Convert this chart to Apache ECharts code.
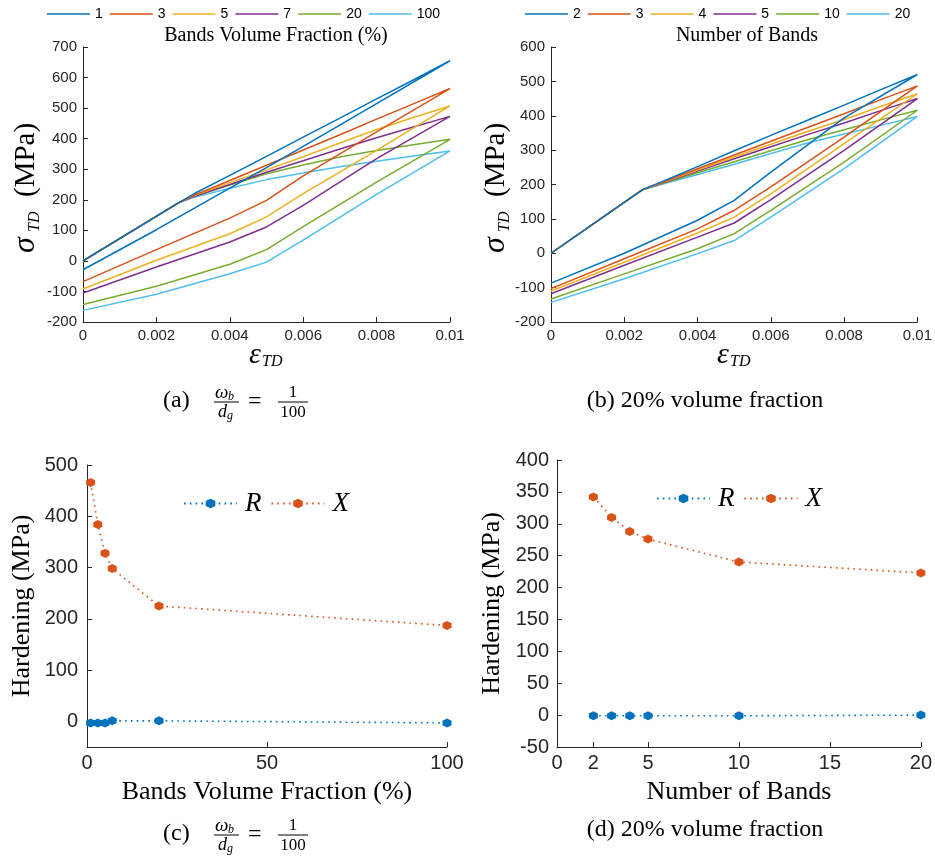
<!DOCTYPE html>
<html>
<head>
<meta charset="utf-8">
<script src="https://cdn.jsdelivr.net/npm/echarts@6/dist/echarts.min.js"></script>
<style>
html, body { margin: 0; padding: 0; background: #ffffff; }
#chart { width: 935px; height: 856px; }
</style>
</head>
<body>
<div id="chart"></div>
<script>
// ---------- (a) stress–strain loops, by bands volume fraction (%) ----------
const fractionLabels = ['1', '3', '5', '7', '20', '100'];
const strainLoadA = [0, 0.0026, 0.003, 0.004, 0.005, 0.006, 0.007, 0.008, 0.009, 0.01];
const strainUnloadA = [0.01, 0.008, 0.006, 0.005, 0.004, 0.002, 0];
const stressLoadA = [
  [0, 190, 218, 280, 342, 405, 467, 530, 592, 655],
  [0, 190, 213, 263, 313, 363, 413, 464, 514, 564],
  [0, 190, 212, 256, 298, 341, 386, 430, 469, 507],
  [0, 190, 210, 250, 290, 328, 366, 403, 438, 473],
  [0, 190, 210, 248, 285, 314, 340, 361, 380, 398],
  [0, 190, 207, 238, 266, 288, 308, 326, 343, 360]
];
const stressUnloadA = [
  [655, 515, 375, 305, 238, 102, -29],
  [564, 422, 278, 198, 140, 37, -68],
  [507, 362, 220, 144, 89, 2, -92],
  [473, 335, 182, 111, 62, -20, -105],
  [398, 258, 112, 37, -11, -83, -143],
  [360, 218, 68, -4, -42, -109, -162]
];

// ---------- (b) stress–strain loops, by number of bands ----------
const bandLabels = ['2', '3', '4', '5', '10', '20'];
const strainLoadB = [0, 0.0025, 0.003, 0.004, 0.005, 0.006, 0.007, 0.008, 0.009, 0.01];
const strainUnloadB = [0.01, 0.008, 0.006, 0.005, 0.004, 0.002, 0];
const stressLoadB = [
  [0, 185, 207, 252, 298, 343, 387, 431, 476, 520],
  [0, 185, 206, 246, 286, 326, 366, 406, 447, 487],
  [0, 185, 204, 242, 280, 317, 354, 389, 427, 464],
  [0, 185, 203, 239, 275, 310, 345, 379, 415, 450],
  [0, 185, 201, 234, 266, 298, 330, 359, 388, 416],
  [0, 185, 200, 229, 259, 290, 321, 347, 372, 398]
];
const stressUnloadB = [
  [520, 394, 236, 154, 96, 0, -87],
  [487, 338, 193, 125, 71, -16, -103],
  [464, 319, 173, 105, 59, -26, -110],
  [450, 299, 156, 88, 47, -35, -118],
  [416, 265, 125, 57, 13, -60, -133],
  [398, 246, 105, 37, -1, -74, -143]
];

// ---------- (c) hardening vs bands volume fraction ----------
const volumeFraction = [1, 3, 5, 7, 20, 100];
const hardeningR_c = [-3, -3, -3, 1, 1, -3];
const hardeningX_c = [466, 384, 328, 298, 225, 187];

// ---------- (d) hardening vs number of bands ----------
const numberOfBands = [2, 3, 4, 5, 10, 20];
const hardeningR_d = [-1, -1, -1, -1, -1, 0];
const hardeningX_d = [342, 310, 288, 276, 240, 223];

const palette = ['#0072BD', '#D95319', '#EDB120', '#7E2F8E', '#77AC30', '#4DBEEE'];
const AX = '#262626';
const SANS = '"Liberation Sans", Arial, sans-serif';
const SERIF = '"Liberation Serif", "Times New Roman", serif';
const hexagon = 'path://M-8.66,-5L0,-10L8.66,-5L8.66,5L0,10L-8.66,5Z';

function pairs(xs, ys) { return xs.map((x, i) => [x, ys[i]]); }

function valueAxis(gridIndex, extra, fontSize, margin) {
  const label = { color: AX, fontFamily: SANS, fontSize: fontSize, margin: margin };
  const tick = { show: true, inside: true, length: 5, lineStyle: { color: AX, width: 1 } };
  const out = Object.assign({
    type: 'value',
    gridIndex: gridIndex,
    axisLine: { show: true, onZero: false, lineStyle: { color: AX, width: 1 } },
    splitLine: { show: false }
  }, extra);
  out.axisLabel = Object.assign(label, extra.axisLabel || {});
  out.axisTick = Object.assign(tick, extra.axisTick || {});
  return out;
}

function strainFmt(v) { return v === 0 ? '0' : String(+v.toFixed(3)); }

const series = [];
fractionLabels.forEach((lab, i) => {
  series.push({
    name: 'vf-' + lab, type: 'line', xAxisIndex: 0, yAxisIndex: 0,
    data: pairs(strainLoadA, stressLoadA[i]).concat(pairs(strainUnloadA, stressUnloadA[i])),
    symbol: 'none', showSymbol: false, color: palette[i],
    lineStyle: { width: 1.5, color: palette[i] }, z: 10 - i
  });
});
bandLabels.forEach((lab, i) => {
  series.push({
    name: 'nb-' + lab, type: 'line', xAxisIndex: 1, yAxisIndex: 1,
    data: pairs(strainLoadB, stressLoadB[i]).concat(pairs(strainUnloadB, stressUnloadB[i])),
    symbol: 'none', showSymbol: false, color: palette[i],
    lineStyle: { width: 1.5, color: palette[i] }, z: 10 - i
  });
});
function hardeningSeries(name, axis, xs, ys, color) {
  return {
    name: name, type: 'line', xAxisIndex: axis, yAxisIndex: axis,
    data: pairs(xs, ys), color: color,
    symbol: hexagon, symbolSize: 9, showSymbol: true,
    itemStyle: { color: color },
    lineStyle: { width: 1.6, type: [1.6, 4.2], color: color }
  };
}
series.push(hardeningSeries('c-R', 2, volumeFraction, hardeningR_c, palette[0]));
series.push(hardeningSeries('c-X', 2, volumeFraction, hardeningX_c, palette[1]));
series.push(hardeningSeries('d-R', 3, numberOfBands, hardeningR_d, palette[0]));
series.push(hardeningSeries('d-X', 3, numberOfBands, hardeningX_d, palette[1]));

function txt(x, y, text, font, align, valign, fill) {
  return {
    type: 'text', x: x, y: y, silent: true,
    style: {
      text: text, font: font, fill: fill || '#000',
      textAlign: align || 'left', textVerticalAlign: valign || 'middle',
      align: align || 'left', verticalAlign: valign || 'middle'
    }
  };
}
function hline(x1, x2, y) {
  return { type: 'line', silent: true, shape: { x1: x1, y1: y, x2: x2, y2: y }, style: { stroke: '#000', lineWidth: 1 } };
}
// "(tag)  ω_b / d_g = 1 / 100"
function ratioCaption(tag, x0, yc) {
  return [
    txt(x0, yc, tag, '24px ' + SERIF),
    txt(x0 + 52, yc - 8, 'ω', 'italic 19px ' + SERIF),
    txt(x0 + 65, yc - 4, 'b', 'italic 12px ' + SERIF),
    hline(x0 + 51, x0 + 76, yc + 1),
    txt(x0 + 55, yc + 11, 'd', 'italic 18px ' + SERIF),
    txt(x0 + 64, yc + 15, 'g', 'italic 12px ' + SERIF),
    txt(x0 + 85, yc + 1, '=', '24px ' + SERIF),
    txt(x0 + 130, yc - 8, '1', '17px ' + SERIF, 'center'),
    hline(x0 + 115, x0 + 145, yc + 1),
    txt(x0 + 130, yc + 12, '100', '17px ' + SERIF, 'center')
  ];
}
// rotated "σ_TD (MPa)"
function stressLabel(x, y) {
  return {
    type: 'group', x: x, y: y, rotation: Math.PI / 2, silent: true,
    children: [
      txt(-68, 0, 'σ', 'italic 32px ' + SERIF),
      txt(-47, 9, 'TD', 'italic 16px ' + SERIF),
      txt(-12, 0, '(MPa)', '29px ' + SERIF)
    ]
  };
}
function strainLabel(x, y) {
  return [
    txt(x, y, 'ε', 'italic 30px ' + SERIF),
    txt(x + 13, y + 7, 'TD', 'italic 16px ' + SERIF)
  ];
}

const graphic = [].concat(
  [txt(276, 36, 'Bands Volume Fraction (%)', '20px ' + SERIF, 'center')],
  [txt(747, 36, 'Number of Bands', '20px ' + SERIF, 'center')],
  [stressLabel(26, 185), stressLabel(496, 185)],
  strainLabel(249, 355),
  strainLabel(717, 355),
  ratioCaption('(a)', 163, 401),
  [txt(705, 401, '(b) 20% volume fraction', '24px ' + SERIF, 'center')],
  ratioCaption('(c)', 163, 834),
  [txt(705, 830, '(d) 20% volume fraction', '24px ' + SERIF, 'center')]
);

function topLegend(left, prefix, labels) {
  return {
    left: left, top: 7, width: 430, padding: 0, orient: 'horizontal',
    data: labels.map(l => prefix + l),
    icon: 'rect', itemWidth: 43, itemHeight: 1.6, itemGap: 7,
    formatter: n => n.slice(3),
    textStyle: { fontFamily: SANS, fontSize: 14, color: '#000' },
    selectedMode: false
  };
}
function hardLegend(left, top, prefix) {
  return {
    left: left, top: top, padding: 0, orient: 'horizontal',
    data: [prefix + 'R', prefix + 'X'],
    itemWidth: 53, itemHeight: 12, itemGap: 9,
    formatter: n => n.slice(2),
    textStyle: { fontFamily: SERIF, fontStyle: 'italic', fontSize: 27, color: '#000', padding: [0, 0, 0, 3] },
    selectedMode: false
  };
}

const option = {
  animation: false,
  backgroundColor: '#ffffff',
  grid: [
    { left: 83, top: 47, width: 367, height: 275 },
    { left: 551, top: 47, width: 367, height: 275 },
    { left: 87, top: 465, width: 360, height: 282 },
    { left: 557, top: 460, width: 365, height: 287 }
  ],
  xAxis: [
    valueAxis(0, { min: 0, max: 0.01, interval: 0.002, axisLabel: { formatter: strainFmt } }, 15, 6),
    valueAxis(1, { min: 0, max: 0.01, interval: 0.002, axisLabel: { formatter: strainFmt } }, 15, 6),
    valueAxis(2, {
      min: 0, max: 100, interval: 50,
      name: 'Bands Volume Fraction (%)', nameLocation: 'middle', nameGap: 32,
      nameTextStyle: { fontFamily: SERIF, fontSize: 26, color: '#000' }
    }, 20, 6),
    valueAxis(3, {
      min: 0, max: 20,
      axisLabel: { customValues: [0, 2, 5, 10, 15, 20] },
      axisTick: { customValues: [0, 2, 5, 10, 15, 20] },
      name: 'Number of Bands', nameLocation: 'middle', nameGap: 32,
      nameTextStyle: { fontFamily: SERIF, fontSize: 26, color: '#000' }
    }, 20, 6)
  ],
  yAxis: [
    valueAxis(0, { min: -200, max: 700, interval: 100 }, 15, 6),
    valueAxis(1, { min: -200, max: 600, interval: 100 }, 15, 6),
    valueAxis(2, {
      min: -50, max: 500,
      axisLabel: { customValues: [0, 100, 200, 300, 400, 500] },
      axisTick: { customValues: [0, 100, 200, 300, 400, 500] },
      name: 'Hardening (MPa)', nameLocation: 'middle', nameGap: 52, nameRotate: 90,
      nameTextStyle: { fontFamily: SERIF, fontSize: 26, color: '#000' }
    }, 20, 9),
    valueAxis(3, {
      min: -50, max: 400, interval: 50,
      name: 'Hardening (MPa)', nameLocation: 'middle', nameGap: 52, nameRotate: 90,
      nameTextStyle: { fontFamily: SERIF, fontSize: 26, color: '#000' }
    }, 20, 8)
  ],
  legend: [
    topLegend(47, 'vf-', fractionLabels),
    topLegend(525, 'nb-', bandLabels),
    hardLegend(183, 490, 'c-'),
    hardLegend(656, 485, 'd-')
  ],
  graphic: graphic,
  series: series
};

const chart = echarts.init(document.getElementById('chart'), null, { renderer: 'canvas' });
chart.setOption(option);
</script>
</body>
</html>
